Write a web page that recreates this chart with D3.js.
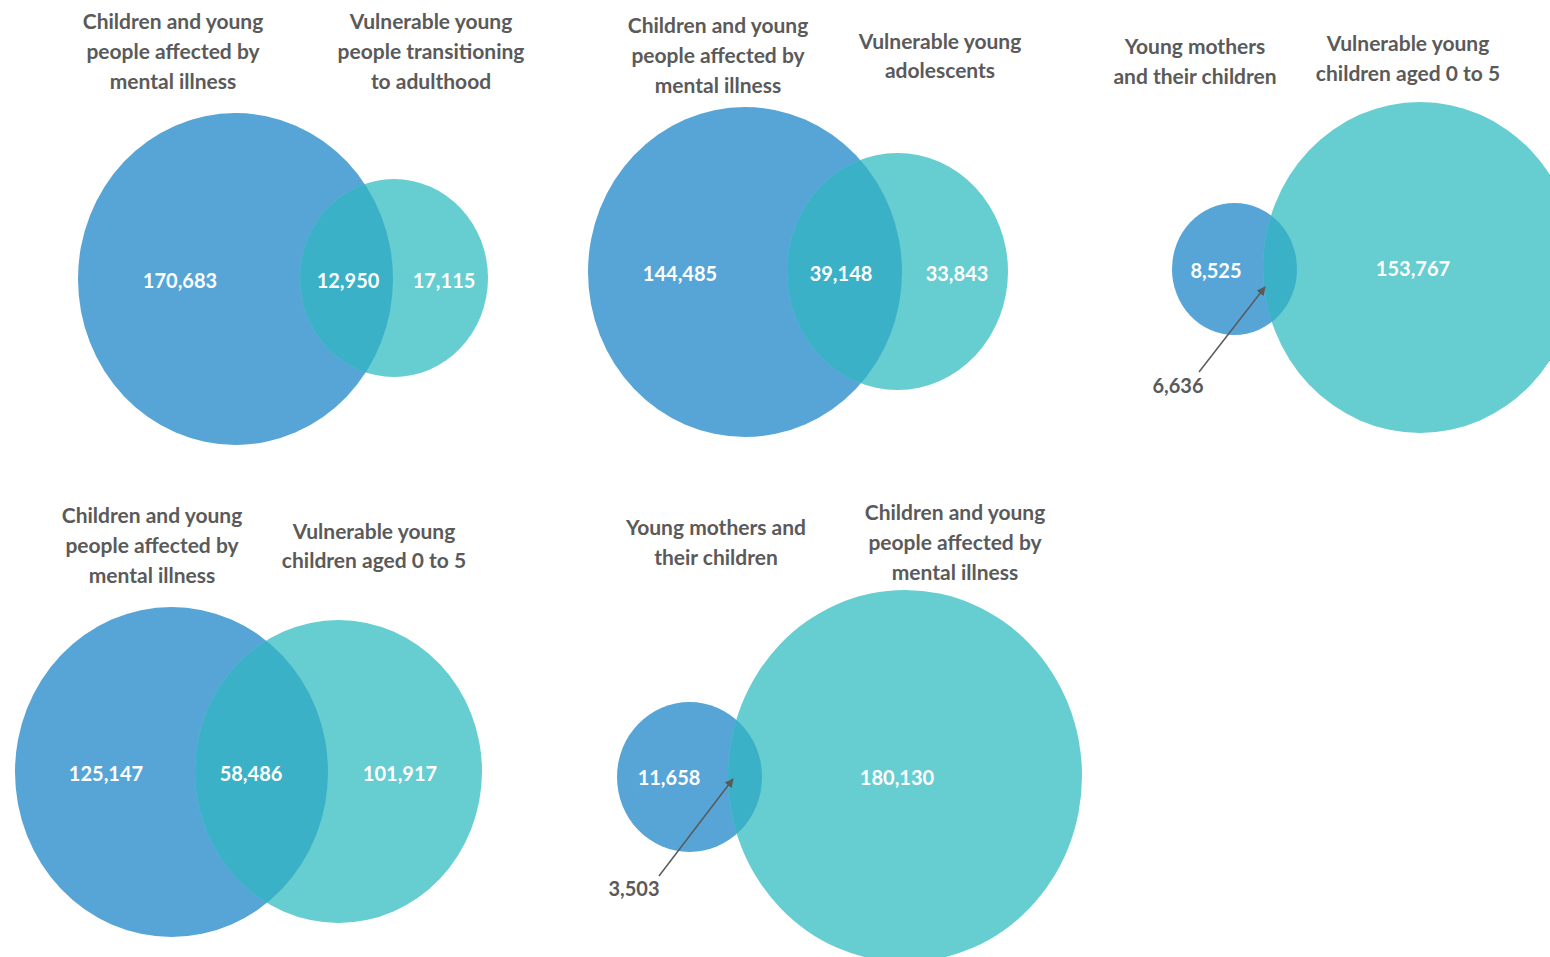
<!DOCTYPE html>
<html><head><meta charset="utf-8">
<script src="https://cdn.jsdelivr.net/npm/d3@7"></script>
<style>
html,body{margin:0;padding:0;background:#fff;}
svg{display:block;}
</style></head>
<body>
<svg id="chart" width="1550" height="957"></svg>
<script>
// ---- DATA ----
const leftSetNames = [
  ["Children and young","people affected by","mental illness"],
  ["Children and young","people affected by","mental illness"],
  ["Young mothers","and their children"],
  ["Children and young","people affected by","mental illness"],
  ["Young mothers and","their children"]
];
const rightSetNames = [
  ["Vulnerable young","people transitioning","to adulthood"],
  ["Vulnerable young","adolescents"],
  ["Vulnerable young","children aged 0 to 5"],
  ["Vulnerable young","children aged 0 to 5"],
  ["Children and young","people affected by","mental illness"]
];
const leftOnly  = [170683, 144485, 8525, 125147, 11658];
const overlap   = [12950, 39148, 6636, 58486, 3503];
const rightOnly = [17115, 33843, 153767, 101917, 180130];

// ---- LAYOUT (separate from data) ----
const layout = [
  {lc:[235.5,279], lr:[157.5,166], rc:[394,278], rr:[94,99],
   lLab:[180,280], oLab:[348,280], rLab:[444,280],
   lt:173, rt:431, ltY:[20,50,80], rtY:[20,50,80], callout:null},
  {lc:[745,272], lr:[157,165], rc:[897.5,271.5], rr:[110.5,118.5],
   lLab:[680,273], oLab:[841,273], rLab:[957,273],
   lt:718, rt:940, ltY:[24,54,84], rtY:[40,69], callout:null},
  {lc:[1234.5,269], lr:[62.5,66], rc:[1420,267.5], rr:[157,165.5],
   lLab:[1216,270], oLab:null, rLab:[1413,268],
   lt:1195, rt:1408, ltY:[45,75], rtY:[42,72],
   callout:{text:[1178,385], from:[1199,372], to:[1265,287]}},
  {lc:[171.5,772], lr:[156.5,165], rc:[338.5,771.5], rr:[143.5,151.5],
   lLab:[106,773], oLab:[251,773], rLab:[400,773],
   lt:152, rt:374, ltY:[514,544,574], rtY:[530,559], callout:null},
  {lc:[689.5,777], lr:[72.5,75], rc:[905,776], rr:[177,186],
   lLab:[669,777], oLab:null, rLab:[897,777],
   lt:716, rt:955, ltY:[526,556], rtY:[511,541,571],
   callout:{text:[634,888], from:[659,876], to:[733,779]}}
];

const colors = {left:"#56a5d6", right:"#66cdd0", overlap:"#3bb1c8", title:"#5a5a5a", num:"#ffffff", arrow:"#5a5a5a"};
const fmt = d3.format(",");
const FONT = "Lato, 'Open Sans', sans-serif";

const svg = d3.select("#chart");
const defs = svg.append("defs");
defs.append("marker").attr("id","arrowhead").attr("viewBox","0 0 10 10")
  .attr("refX",9).attr("refY",5).attr("markerWidth",6).attr("markerHeight",6)
  .attr("orient","auto").append("path").attr("d","M0,0 L10,5 L0,10 z").attr("fill",colors.arrow);

const data = leftOnly.map((d,i)=>({i, left:d, ov:overlap[i], right:rightOnly[i],
  lName:leftSetNames[i], rName:rightSetNames[i], L:layout[i]}));

const g = svg.selectAll("g.venn").data(data).join("g").attr("class","venn");

function ell(sel, c, r){
  return sel.append("ellipse").attr("cx",c[0]).attr("cy",c[1]).attr("rx",r[0]).attr("ry",r[1]);
}

g.each(function(d){
  const sel = d3.select(this);
  const L = d.L;
  ell(defs.append("clipPath").attr("id","clipL"+d.i), L.lc, L.lr);
  ell(sel, L.lc, L.lr).attr("fill",colors.left);
  ell(sel, L.rc, L.rr).attr("fill",colors.right);
  ell(sel, L.rc, L.rr).attr("fill",colors.overlap).attr("clip-path","url(#clipL"+d.i+")");

  const nums = [[d.left,L.lLab],[d.right,L.rLab]];
  if (L.oLab) nums.push([d.ov,L.oLab]);
  nums.forEach(([v,p])=>{
    sel.append("text").attr("x",p[0]).attr("y",p[1]).attr("text-anchor","middle")
      .attr("dominant-baseline","central").attr("font-family",FONT).attr("font-weight",700)
      .attr("font-size",20).attr("fill",colors.num).text(fmt(v));
  });
  if (L.callout){
    const c = L.callout;
    sel.append("line").attr("x1",c.from[0]).attr("y1",c.from[1]).attr("x2",c.to[0]).attr("y2",c.to[1])
      .attr("stroke",colors.arrow).attr("stroke-width",1.5).attr("marker-end","url(#arrowhead)");
    sel.append("text").attr("x",c.text[0]).attr("y",c.text[1]).attr("text-anchor","middle")
      .attr("dominant-baseline","central").attr("font-family",FONT).attr("font-weight",700)
      .attr("font-size",20).attr("fill",colors.title).text(fmt(d.ov));
  }
  const titles = [[d.lName,L.lt,L.ltY],[d.rName,L.rt,L.rtY]];
  titles.forEach(([lines,x,ys])=>{
    lines.forEach((t,k)=>{
      sel.append("text").attr("x",x).attr("y",ys[k]).attr("text-anchor","middle")
        .attr("dominant-baseline","central").attr("font-family",FONT).attr("font-weight",700)
        .attr("font-size",21).attr("fill",colors.title).text(t);
    });
  });
});
</script>
</body></html>
